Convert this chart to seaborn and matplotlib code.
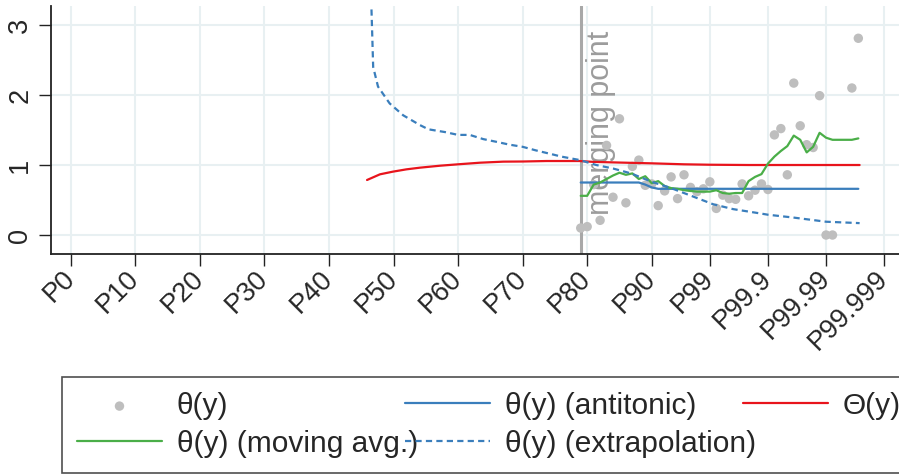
import matplotlib
matplotlib.use("Agg")
import matplotlib.pyplot as plt
import seaborn as sns
import pandas as pd

# ---------------- data ----------------
tick_labels = ["P0", "P10", "P20", "P30", "P40", "P50", "P60", "P70", "P80",
               "P90", "P99", "P99.9", "P99.99", "P99.999"]
tick_pos = [0, 10, 20, 30, 40, 50, 60, 70, 80, 90, 99, 108, 117, 126]
y_ticks = [0, 1, 2, 3]

# theta(y) scatter
pts_x = [79, 80, 81, 82, 83, 84, 85, 86, 87, 88, 89, 90, 91, 92, 93, 94, 95,
         96, 97, 98, 99, 100, 101, 102, 103, 104, 105, 106, 107, 108, 109,
         110, 111, 112, 113, 114, 115, 116, 117, 118, 121, 122]
pts_y = [0.10, 0.12, 0.72, 0.21, 1.28, 0.54, 1.66, 0.46, 0.98, 1.07, 0.71,
         0.73, 0.42, 0.63, 0.83, 0.52, 0.86, 0.68, 0.62, 0.66, 0.76, 0.38,
         0.57, 0.52, 0.51, 0.73, 0.56, 0.64, 0.73, 0.65, 1.43, 1.52, 0.86,
         2.17, 1.56, 1.29, 1.25, 1.99, 0.00, 0.00, 2.10, 2.81]

# theta(y) antitonic
anti_x = [79, 88, 89, 90, 91, 122]
anti_y = [0.75, 0.75, 0.72, 0.68, 0.66, 0.66]

# Theta(y)
big_x = [45.9, 47.9, 49.9, 52.0, 54.1, 57.2, 60.0, 63.4, 67.0, 70.0, 73.7,
         78.8, 80.9, 85.0, 90.0, 95.0, 99.0, 105.0, 122.2]
big_y = [0.786, 0.867, 0.905, 0.938, 0.962, 0.990, 1.010, 1.033, 1.048,
         1.050, 1.057, 1.057, 1.045, 1.035, 1.024, 1.010, 1.004, 1.000, 1.000]

# theta(y) moving average
ma_x = list(range(79, 123))
ma_y = [0.56, 0.56, 0.72, 0.75, 0.80, 0.85, 0.89, 0.86, 0.88, 0.80, 0.84,
        0.74, 0.77, 0.70, 0.67, 0.66, 0.64, 0.63, 0.62, 0.62, 0.62, 0.64,
        0.60, 0.59, 0.60, 0.60, 0.77, 0.83, 0.87, 1.02, 1.12, 1.20, 1.27,
        1.42, 1.36, 1.18, 1.26, 1.46, 1.39, 1.36, 1.36, 1.36, 1.36, 1.38]

# theta(y) extrapolation
ext_x = [46.5, 46.85, 47.6, 49.4, 51.5, 54.1, 55.4, 58.0, 60.0, 61.8, 63.9,
         66.0, 68.0, 70.0, 72.0, 74.7, 76.0, 78.9, 81.4, 84.0, 86.8, 90.0,
         93.0, 96.4, 99.5, 102.6, 106.7, 108.0, 111.9, 117.0, 122.2]
ext_y = [3.50, 2.40, 2.12, 1.88, 1.71, 1.57, 1.51, 1.47, 1.43, 1.43, 1.37,
         1.33, 1.29, 1.26, 1.21, 1.15, 1.12, 1.07, 1.00, 0.95, 0.88, 0.76,
         0.67, 0.55, 0.44, 0.37, 0.31, 0.29, 0.25, 0.19, 0.17]

merge_x = 79.0
labels = ["θ(y)", "θ(y) (antitonic)", "Θ(y)", "θ(y) (moving avg.)",
          "θ(y) (extrapolation)"]

# ---------------- style ----------------
sns.set_theme(style="white")
plt.rcParams["font.family"] = ["Liberation Sans", "DejaVu Sans"]

c_gray = "#bebebe"
c_blue = "#3a7ebc"
c_red = "#e8141c"
c_green = "#4aae48"
c_grid = "#e8f0f2"

fig = plt.figure(figsize=(8.99, 4.75), dpi=100)
ax = fig.add_axes([50.7 / 899, 1 - 254 / 475, 1 - 50.7 / 899, 248 / 475])

for xp in tick_pos:
    ax.axvline(xp, color=c_grid, lw=1.5, zorder=0)
for yp in y_ticks:
    ax.axhline(yp, color=c_grid, lw=1.5, zorder=0)

ax.axvline(merge_x, color="#a8a8a8", lw=2.2, zorder=1)
ax.text(79.8, 0.286, "merging point", rotation=90, ha="left", va="bottom",
        fontsize=22, color="#9c9c9c", zorder=1.5)

df_pts = pd.DataFrame({"x": pts_x, "y": pts_y})
df_anti = pd.DataFrame({"x": anti_x, "y": anti_y})
df_big = pd.DataFrame({"x": big_x, "y": big_y})
df_ma = pd.DataFrame({"x": ma_x, "y": ma_y})
df_ext = pd.DataFrame({"x": ext_x, "y": ext_y})

sns.scatterplot(data=df_pts, x="x", y="y", ax=ax, color=c_gray, s=46,
                edgecolor="none", zorder=2)
h_pts = ax.collections[-1]
sns.lineplot(data=df_anti, x="x", y="y", ax=ax, color=c_blue, lw=1.6,
             sort=False, estimator=None, zorder=3)
h_anti = ax.lines[-1]
sns.lineplot(data=df_big, x="x", y="y", ax=ax, color=c_red, lw=1.6,
             sort=False, estimator=None, zorder=3)
h_big = ax.lines[-1]
sns.lineplot(data=df_ma, x="x", y="y", ax=ax, color=c_green, lw=1.6,
             sort=False, estimator=None, zorder=3)
h_ma = ax.lines[-1]
sns.lineplot(data=df_ext, x="x", y="y", ax=ax, color=c_blue, lw=1.6,
             sort=False, estimator=None, zorder=3)
h_ext = ax.lines[-1]
h_ext.set_linestyle((0, (2.8, 1.9)))

ax.set_xlim(-3.1, 128.3)
ax.set_ylim(-0.271, 3.271)
ax.set_xticks(tick_pos)
ax.set_xticklabels(tick_labels, rotation=45, ha="right", va="center",
                   rotation_mode="anchor", fontsize=19.5)
ax.set_yticks(y_ticks)
ax.set_yticklabels([str(v) for v in y_ticks], rotation=90, va="center",
                   fontsize=19.5)
ax.set_xlabel("")
ax.set_ylabel("")
ax.tick_params(axis="both", which="major", length=8.5, width=1.0,
               color="#222222", bottom=True, left=True)
ax.tick_params(axis="x", pad=6.5)
ax.tick_params(axis="y", pad=4)
for s in ["top", "right"]:
    ax.spines[s].set_visible(False)
for s in ["left", "bottom"]:
    ax.spines[s].set_color("#222222")
    ax.spines[s].set_linewidth(1.3)

handles = [h_pts, h_ma, h_anti, h_ext, h_big]
leg_labels = [labels[0], labels[3], labels[1], labels[4], labels[2]]
leg = fig.legend(handles, leg_labels, loc="upper left",
                 bbox_to_anchor=(62 / 899, 1 - 377 / 475), ncol=3,
                 fontsize=21.5, frameon=True, fancybox=False,
                 edgecolor="#222222", handlelength=2.85, handletextpad=0.5,
                 columnspacing=-0.45, borderpad=0.5, labelspacing=0.33,
                 borderaxespad=0)
leg.get_frame().set_linewidth(1.2)

fig.savefig("out.png", dpi=100)
